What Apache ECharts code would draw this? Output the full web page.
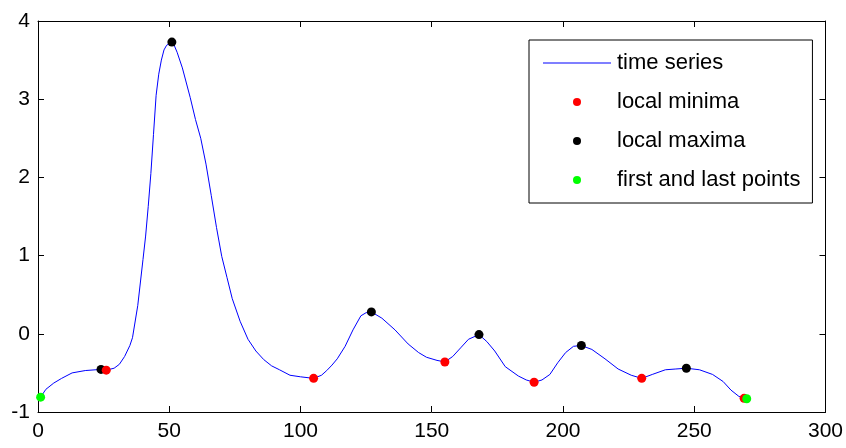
<!DOCTYPE html>
<html>
<head>
<meta charset="utf-8">
<script src="https://cdn.jsdelivr.net/npm/echarts@6/dist/echarts.min.js"></script>
<style>html,body{margin:0;padding:0;background:#fff;}#c{width:846px;height:448px;}</style>
</head>
<body>
<div id="c"></div>
<script>
// time series (index, value)
const tValues = [1,3,6,9,13,18,24,26,29,31,33,35,36,38,40,41,42,43,44,45,46,47,48,49,51,52,53,55,58,60,62,64,66,68,70,72,74,77,80,83,86,89,92,96,100,105,108,110,112,114,117,120,123,125,127,131,136,141,145,148,152,155,158,161,164,168,171,174,178,183,186,189,192,195,198,201,204,207,211,216,221,226,230,234,239,243,247,252,257,261,264,267,269,270];
const yValues = [-0.81,-0.71,-0.63,-0.57,-0.50,-0.47,-0.455,-0.465,-0.44,-0.39,-0.29,-0.15,-0.05,0.36,0.95,1.25,1.63,2.05,2.55,3.05,3.32,3.50,3.63,3.69,3.73,3.68,3.60,3.40,3.02,2.74,2.50,2.17,1.77,1.36,0.99,0.72,0.45,0.16,-0.07,-0.22,-0.33,-0.41,-0.46,-0.53,-0.55,-0.57,-0.53,-0.47,-0.40,-0.32,-0.16,0.05,0.23,0.27,0.28,0.20,0.05,-0.13,-0.24,-0.30,-0.34,-0.36,-0.29,-0.18,-0.07,-0.01,-0.10,-0.22,-0.42,-0.54,-0.59,-0.62,-0.59,-0.52,-0.37,-0.24,-0.16,-0.15,-0.20,-0.32,-0.45,-0.53,-0.57,-0.52,-0.46,-0.45,-0.44,-0.46,-0.52,-0.61,-0.72,-0.80,-0.825,-0.83];
const minimaT = [26,105,155,189,230,269];
const maximaT = [24,51,127,168,207,247];
const endsT = [1,270];
const xTicks = [0,50,100,150,200,250,300];
const yTicks = [-1,0,1,2,3,4];
const seriesNames = ['time series','local minima','local maxima','first and last points'];

const valueAt = t => yValues[tValues.indexOf(t)];
const linePts = tValues.map((t,i)=>[t,yValues[i]]);
const pts = arr => arr.map(t=>[t,valueAt(t)]);

const font = '"Liberation Sans", Arial, sans-serif';
const axisCommon = {
  axisLine:{show:true,onZero:false,lineStyle:{color:'#000',width:1}},
  axisTick:{show:true,inside:true,length:6,lineStyle:{color:'#000'}},
  splitLine:{show:false}
};
const chart = echarts.init(document.getElementById('c'));
chart.setOption({
  animation:false,
  backgroundColor:'#fff',
  grid:{left:38,right:20,top:21,bottom:36,containLabel:false},
  xAxis:[
    Object.assign({type:'value',min:xTicks[0],max:xTicks[xTicks.length-1],interval:50,position:'bottom',
      axisLabel:{color:'#000',fontFamily:font,fontSize:21,margin:9}},axisCommon),
    Object.assign({type:'value',min:xTicks[0],max:xTicks[xTicks.length-1],interval:50,position:'top',
      axisLabel:{show:false}},axisCommon)
  ],
  yAxis:[
    Object.assign({type:'value',min:yTicks[0],max:yTicks[yTicks.length-1],interval:1,position:'left',
      axisLabel:{color:'#000',fontFamily:font,fontSize:21,margin:8}},axisCommon),
    Object.assign({type:'value',min:yTicks[0],max:yTicks[yTicks.length-1],interval:1,position:'right',
      axisLabel:{show:false}},axisCommon)
  ],
  legend:{
    orient:'vertical',left:529,top:40,
    data:[
      {name:seriesNames[0],icon:'path://M0,0H68V1H0Z'},
      {name:seriesNames[1],icon:'circle'},
      {name:seriesNames[2],icon:'circle'},
      {name:seriesNames[3],icon:'circle'}
    ],
    backgroundColor:'#fff',borderColor:'#000',borderWidth:1,borderRadius:0,
    padding:[11,12,11,14],
    itemWidth:68,itemHeight:8,itemGap:15,
    selectedMode:false,
    textStyle:{color:'#000',fontFamily:font,fontSize:22,lineHeight:24,padding:[0,0,0,1]}
  },
  series:[
    {name:seriesNames[0],type:'line',data:linePts,showSymbol:false,symbol:'none',
     lineStyle:{color:'#0000ff',width:1},itemStyle:{color:'#0000ff'},z:2},
    {name:seriesNames[2],type:'scatter',data:pts(maximaT),symbol:'circle',symbolSize:9,
     itemStyle:{color:'#000000',opacity:1},z:3},
    {name:seriesNames[1],type:'scatter',data:pts(minimaT),symbol:'circle',symbolSize:9,
     itemStyle:{color:'#ff0000',opacity:1},z:4},
    {name:seriesNames[3],type:'scatter',data:pts(endsT),symbol:'circle',symbolSize:9,
     itemStyle:{color:'#00ff00',opacity:1},z:5}
  ]
});
</script>
</body>
</html>
